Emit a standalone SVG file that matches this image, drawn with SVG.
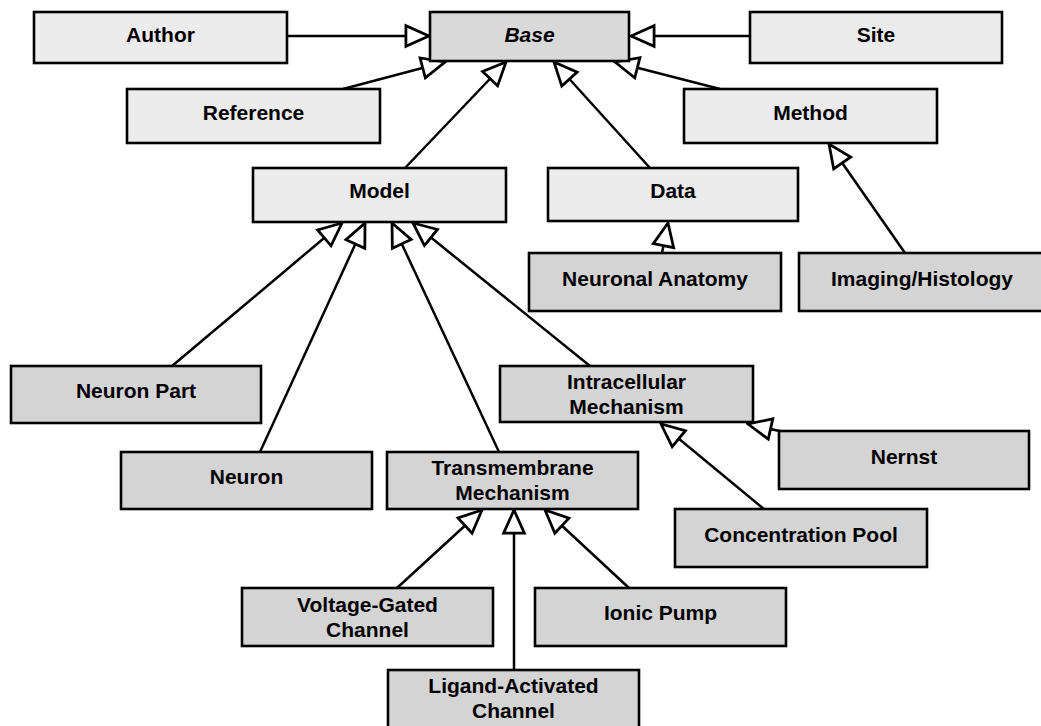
<svg xmlns="http://www.w3.org/2000/svg" width="1041" height="726" viewBox="0 0 1041 726">
<style>
  .box { stroke: #000; stroke-width: 2.6; }
  .light { fill: #ececec; }
  .dark { fill: #d4d4d4; }
  .base { fill: #d9d9d9; }
  text { font-family: "Liberation Sans", Arial, sans-serif; font-weight: bold; font-size: 21px; fill: #000; text-anchor: middle; }
  .conn line { stroke: #000; stroke-width: 2.5; marker-end: url(#tri); }
</style>
<defs>
  <marker id="tri" markerUnits="userSpaceOnUse" markerWidth="30" markerHeight="30" viewBox="-24 -12 26 24" refX="0" refY="0" orient="auto">
    <path d="M0,0 L-20,-9 L-20,9 Z" fill="#fff" stroke="#000" stroke-width="2.4" stroke-linejoin="miter"/>
  </marker>
</defs>
<rect width="1041" height="726" fill="#fff"/>
<g class="conn" id="connectors">
  <line x1="287" y1="36" x2="429" y2="36"/>
  <line x1="750" y1="36" x2="631" y2="36"/>
  <line x1="343" y1="89" x2="445" y2="62"/>
  <line x1="405" y1="168" x2="506" y2="62"/>
  <line x1="650" y1="168" x2="554" y2="62"/>
  <line x1="720" y1="89" x2="615" y2="62"/>
  <line x1="905" y1="253" x2="829" y2="144"/>
  <line x1="662" y1="253" x2="668" y2="223"/>
  <line x1="172" y1="366" x2="342" y2="223"/>
  <line x1="260" y1="452" x2="365" y2="223"/>
  <line x1="499" y1="452" x2="392" y2="223"/>
  <line x1="590" y1="366" x2="413" y2="223"/>
  <line x1="784" y1="432" x2="748" y2="424"/>
  <line x1="764" y1="509" x2="661" y2="424"/>
  <line x1="397" y1="588" x2="482" y2="510"/>
  <line x1="514" y1="670" x2="514" y2="510"/>
  <line x1="629" y1="588" x2="545" y2="510"/>
</g>
<g id="author"><rect class="box light" x="34" y="12" width="253" height="51"/><text x="160.5" y="42">Author</text></g>
<g id="base"><rect class="box base" x="430" y="12" width="199" height="49"/><text x="529.5" y="42" font-style="italic">Base</text></g>
<g id="site"><rect class="box light" x="750" y="12" width="252" height="51"/><text x="876" y="42">Site</text></g>
<g id="reference"><rect class="box light" x="127" y="89" width="253" height="54"/><text x="253.5" y="120">Reference</text></g>
<g id="method"><rect class="box light" x="684" y="89" width="253" height="54"/><text x="810.5" y="120">Method</text></g>
<g id="model"><rect class="box light" x="253" y="168" width="253" height="54"/><text x="379.5" y="198">Model</text></g>
<g id="data"><rect class="box light" x="548" y="168" width="250" height="53"/><text x="673" y="198">Data</text></g>
<g id="neuronal-anatomy"><rect class="box dark" x="529" y="253" width="252" height="58"/><text x="655" y="286">Neuronal Anatomy</text></g>
<g id="imaging-histology"><rect class="box dark" x="799" y="253" width="252" height="58"/><text x="922" y="286">Imaging/Histology</text></g>
<g id="neuron-part"><rect class="box dark" x="11" y="366" width="250" height="57"/><text x="136" y="398">Neuron Part</text></g>
<g id="intracellular-mechanism"><rect class="box dark" x="500" y="366" width="253" height="56"/><text x="626.5" y="389">Intracellular</text><text x="626.5" y="414">Mechanism</text></g>
<g id="nernst"><rect class="box dark" x="779" y="431" width="250" height="58"/><text x="904" y="464">Nernst</text></g>
<g id="neuron"><rect class="box dark" x="121" y="452" width="251" height="57"/><text x="246.5" y="484">Neuron</text></g>
<g id="transmembrane-mechanism"><rect class="box dark" x="387" y="452" width="251" height="57"/><text x="512.5" y="475">Transmembrane</text><text x="512.5" y="500">Mechanism</text></g>
<g id="concentration-pool"><rect class="box dark" x="675" y="509" width="252" height="58"/><text x="801" y="542">Concentration Pool</text></g>
<g id="voltage-gated-channel"><rect class="box dark" x="242" y="588" width="251" height="58"/><text x="367.5" y="612">Voltage-Gated</text><text x="367.5" y="637">Channel</text></g>
<g id="ionic-pump"><rect class="box dark" x="535" y="588" width="251" height="58"/><text x="660.5" y="620">Ionic Pump</text></g>
<g id="ligand-activated-channel"><rect class="box dark" x="388" y="670" width="251" height="70"/><text x="513.5" y="693">Ligand-Activated</text><text x="513.5" y="718">Channel</text></g>
</svg>
